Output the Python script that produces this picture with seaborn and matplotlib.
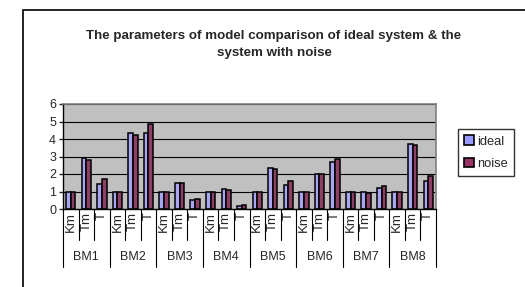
import numpy as np
import pandas as pd
import seaborn as sns
import matplotlib
matplotlib.use("Agg")
import matplotlib.pyplot as plt
from matplotlib.patches import Rectangle
import matplotlib.transforms as mtransforms

sns.set_style("white")
plt.rcParams['font.family'] = ['Liberation Sans', 'DejaVu Sans']

groups = ['BM1', 'BM2', 'BM3', 'BM4', 'BM5', 'BM6', 'BM7', 'BM8']
params = ['Km', 'Tm', 'T']
ideal = [1.0, 2.91, 1.43, 1.0, 4.34, 4.34, 1.0, 1.47, 0.51, 1.0, 1.12, 0.17,
         1.0, 2.34, 1.37, 1.0, 2.0, 2.70, 1.0, 0.95, 1.18, 1.0, 3.73, 1.58]
noise = [1.0, 2.82, 1.73, 1.0, 4.21, 4.84, 1.0, 1.47, 0.59, 1.0, 1.09, 0.25,
         1.0, 2.29, 1.62, 1.0, 2.02, 2.86, 1.0, 0.91, 1.30, 1.0, 3.66, 1.90]

cats = [g + '|' + p for g in groups for p in params]
df = pd.DataFrame({
    'cat': cats * 2,
    'value': ideal + noise,
    'series': ['ideal'] * len(cats) + ['noise'] * len(cats),
})

W, H = 525, 287
fig = plt.figure(figsize=(W / 100, H / 100), dpi=100)
fig.patch.set_facecolor('white')

# outer chart frame (runs off the right and bottom edges)
fig.add_artist(Rectangle((23 / W, -0.2), 1.2, 1.2 - 10 / H,
                         transform=fig.transFigure, fill=False,
                         edgecolor='black', linewidth=1.2, clip_on=False))

ax = fig.add_axes([63 / W, 1 - 209 / H, 373 / W, 105 / H])
ax.set_facecolor('#C0C0C0')
sns.barplot(data=df, x='cat', y='value', hue='series', order=cats,
            palette={'ideal': '#9999FF', 'noise': '#993366'},
            width=0.6, edgecolor='black', linewidth=1.1, ax=ax, legend=False)

ax.set_ylim(0, 6)
ax.set_xlim(-0.5, len(cats) - 0.5)
ax.set_yticks(range(0, 7))
ax.tick_params(axis='y', direction='out', length=3, width=1, labelsize=9, pad=2, left=True)
ax.set_xticks([])
ax.set_xlabel('')
ax.set_ylabel('')
ax.yaxis.grid(True, color='black', linewidth=0.8)
ax.set_axisbelow(True)
for s in ['top', 'right']:
    ax.spines[s].set_color('#808080')
    ax.spines[s].set_linewidth(1.2)
ax.spines['left'].set_color('black')
ax.spines['bottom'].set_color('black')
ax.spines['left'].set_linewidth(1)
ax.spines['bottom'].set_linewidth(1)

# multi-level category axis
trans = mtransforms.blended_transform_factory(ax.transData, ax.transAxes)
py = lambda p: (209 - p) / 105.0
for i, c in enumerate(cats):
    ax.text(i, py(212), c.split('|')[1], rotation=90, ha='center', va='top',
            fontsize=9.5, transform=trans)
for i in range(len(cats) + 1):
    bottom = py(267) if i % 3 == 0 else py(240)
    ax.plot([i - 0.5, i - 0.5], [0, bottom], color='black', linewidth=0.8,
            transform=trans, clip_on=False)
for j, g in enumerate(groups):
    ax.text(3 * j + 1, py(257), g, ha='center', va='center', fontsize=9,
            transform=trans)

fig.text(274 / W, 1 - 44.5 / H,
         'The parameters of model comparison of ideal system & the\nsystem with noise',
         ha='center', va='center', fontsize=9.6, fontweight='bold', linespacing=1.55)

handles = [Rectangle((0, 0), 1, 1, facecolor='#9999FF', edgecolor='black', linewidth=1.2),
           Rectangle((0, 0), 1, 1, facecolor='#993366', edgecolor='black', linewidth=1.2)]
leg = fig.legend(handles, ['ideal', 'noise'], loc='upper left',
                 bbox_to_anchor=(458 / W, 1 - 129 / H), fontsize=9.3,
                 frameon=True, fancybox=False, handlelength=0.7, handleheight=0.7,
                 handletextpad=0.25, borderpad=0.5, labelspacing=0.8, borderaxespad=0)
leg.get_frame().set_edgecolor('black')
leg.get_frame().set_linewidth(1)

fig.savefig('out.png', dpi=100)
